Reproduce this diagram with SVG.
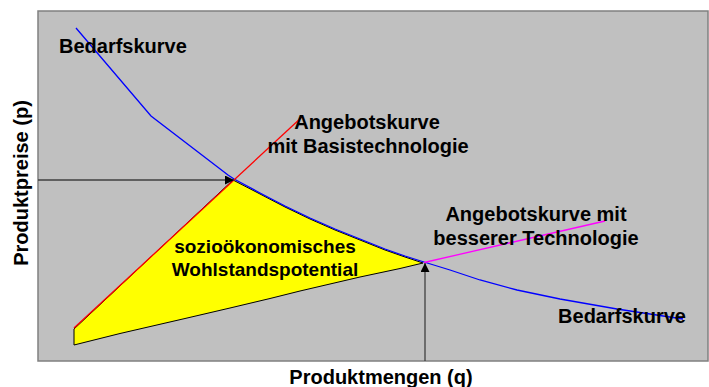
<svg xmlns="http://www.w3.org/2000/svg" width="709" height="387" viewBox="0 0 709 387">
<style>
text{font-family:"Liberation Sans",Arial,sans-serif;font-weight:bold;fill:#000}
.lbl{font-size:20px}
.in{font-size:19px}
.ax{font-size:20px}
.curve{fill:none;stroke-width:1.3}
.guide{stroke:#404040;stroke-width:1.3;fill:none}
</style>
<defs>
<marker id="ah" viewBox="0 0 10 10" refX="10" refY="5" markerWidth="9" markerHeight="9" markerUnits="userSpaceOnUse" orient="auto">
<path d="M0,0 L10,5 L0,10 z" fill="#000"/>
</marker>
</defs>
<rect id="plot" x="38" y="11" width="670" height="350" fill="#C0C0C0" stroke="#808080" stroke-width="1.5"/>
<g id="area">
<path d="M74,329 L233,180 L260,194 L285,207 L310,219 L335,230 L360,240 L385,250 L405,257 L423,263 L400,268.5 L360,277 L300,291 L270,298.5 L230,308 L185,318.5 L120,333.5 L74,345 Z" fill="#FFFF00" stroke="#000" stroke-width="1"/>
</g>
<g id="connectors">
<polyline id="bedarf" class="curve" stroke="#0000FF" points="76,28 151,116 228,175 234,179 260,193 285,206 310,218 335,229 360,239 385,249 405,256 424,262 450,270 480,280 517,290 560,299 617,309 650,314 683,319"/>
<line id="angebot1" class="curve" stroke="#FF0000" x1="74" y1="328" x2="302" y2="117"/>
<line id="angebot2" class="curve" stroke="#FF00FF" x1="424" y1="262.5" x2="605" y2="221"/>
<line id="preis" class="guide" x1="38" y1="180" x2="234" y2="180" marker-end="url(#ah)"/>
<line id="menge" class="guide" x1="425" y1="361" x2="425" y2="263" marker-end="url(#ah)"/>
</g>
<g id="labels">
<text class="lbl" x="59" y="53">Bedarfskurve</text>
<text class="lbl" x="367" y="129" text-anchor="middle">Angebotskurve</text>
<text class="lbl" x="368" y="153" text-anchor="middle">mit Basistechnologie</text>
<text class="lbl" x="536" y="221" text-anchor="middle">Angebotskurve mit</text>
<text class="lbl" x="536" y="245" text-anchor="middle">besserer Technologie</text>
<text class="lbl" x="622" y="323" text-anchor="middle">Bedarfskurve</text>
<text class="in" x="265" y="253" text-anchor="middle">sozioökonomisches</text>
<text class="in" x="265" y="276" text-anchor="middle">Wohlstandspotential</text>
<text class="ax" x="381" y="384" text-anchor="middle">Produktmengen (q)</text>
<text class="ax" transform="translate(28,183) rotate(-90)" text-anchor="middle">Produktpreise (p)</text>
</g>
</svg>
